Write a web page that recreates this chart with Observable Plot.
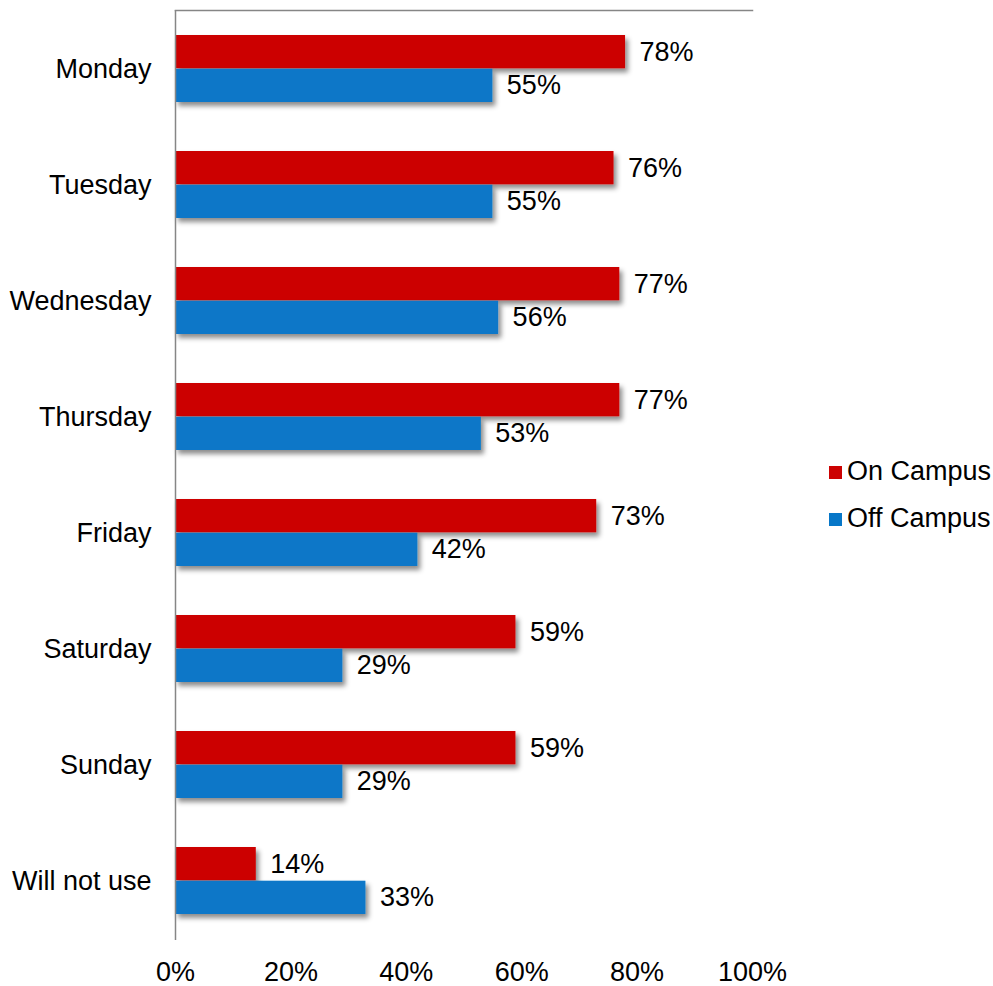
<!DOCTYPE html>
<html>
<head>
<meta charset="utf-8">
<script src="https://cdn.jsdelivr.net/npm/d3@7"></script>
<script src="https://cdn.jsdelivr.net/npm/@observablehq/plot@0.6"></script>
<style>
  body { margin: 0; background: #fff; }
  #wrap { position: relative; width: 993px; height: 986px; font-family: "Liberation Sans", Arial, sans-serif; }
  #legend { position: absolute; left: 829px; top: 448px; font-size: 27px; line-height: 47px; color: #000; }
  #legend .sw { display: inline-block; width: 13px; height: 13px; margin-right: 5px; vertical-align: 1px; }
</style>
</head>
<body>
<div id="wrap"><div id="legend"></div></div>
<script>
const days = ["Monday", "Tuesday", "Wednesday", "Thursday", "Friday", "Saturday", "Sunday", "Will not use"];
const onCampus = [78, 76, 77, 77, 73, 59, 59, 14];
const offCampus = [55, 55, 56, 53, 42, 29, 29, 33];
const seriesNames = ["On Campus", "Off Campus"];
const seriesColors = ["#cc0202", "#0777c8"];
const xTicks = [0, 0.2, 0.4, 0.6, 0.8, 1.0];

const rows = days.map((d, i) => ({day: d, on: onCampus[i], off: offCampus[i]}));

const half = (930 / 8) * 0.58 / 2;

const chart = Plot.plot({
  width: 993,
  height: 986,
  marginLeft: 175,
  marginRight: 241,
  marginTop: 10,
  marginBottom: 46,
  style: {fontFamily: "'Liberation Sans', Arial, sans-serif", fontSize: "27px", background: "white", color: "#000", overflow: "visible"},
  x: {domain: [0, 1], label: null},
  y: {domain: days, paddingInner: 0.42, paddingOuter: 0.21, label: null},
  marks: [
    Plot.barX(rows, {y: "day", x1: 0, x2: d => d.on / 100, fill: seriesColors[0], insetBottom: half}),
    Plot.barX(rows, {y: "day", x1: 0, x2: d => d.off / 100, fill: seriesColors[1], insetTop: half}),
    Plot.text(rows, {y: "day", x: d => d.on / 100, text: d => d.on + "%", textAnchor: "start", dx: 14, dy: -half / 2, fill: "#000", fontSize: 27}),
    Plot.text(rows, {y: "day", x: d => d.off / 100, text: d => d.off + "%", textAnchor: "start", dx: 14, dy: half / 2, fill: "#000", fontSize: 27}),
    Plot.ruleX([0], {stroke: "#868686", strokeWidth: 1.5}),
    Plot.frame({anchor: "top", stroke: "#868686", strokeWidth: 1.5}),
    Plot.axisX({anchor: "bottom", ticks: xTicks, tickFormat: d3.format(".0%"), tickSize: 0, tickPadding: 21, label: null, fontSize: 27}),
    Plot.axisY({anchor: "left", tickSize: 0, tickPadding: 24, label: null, fontSize: 27})
  ]
});

// drop shadow on bars
const ns = "http://www.w3.org/2000/svg";
const defs = document.createElementNS(ns, "defs");
defs.innerHTML = '<filter id="barShadow" x="-5%" y="-30%" width="115%" height="180%"><feDropShadow dx="3" dy="4" stdDeviation="2.5" flood-color="#000" flood-opacity="0.45"/></filter>';
chart.insertBefore(defs, chart.firstChild);
chart.querySelectorAll('g[aria-label="bar"]').forEach(g => g.setAttribute("filter", "url(#barShadow)"));

const wrap = document.getElementById("wrap");
wrap.insertBefore(chart, wrap.firstChild);

const legend = document.getElementById("legend");
seriesNames.forEach((name, i) => {
  const row = document.createElement("div");
  const sw = document.createElement("span");
  sw.className = "sw";
  sw.style.background = seriesColors[i];
  row.appendChild(sw);
  row.appendChild(document.createTextNode(name));
  legend.appendChild(row);
});
</script>
</body>
</html>
